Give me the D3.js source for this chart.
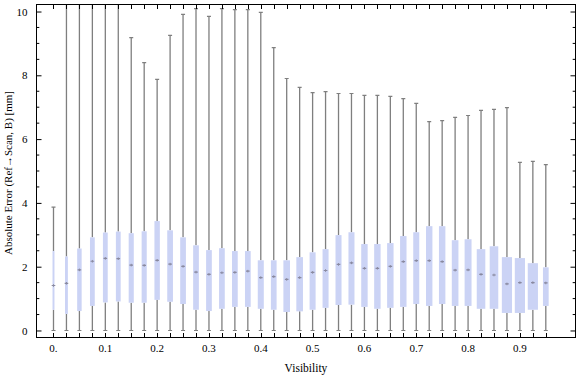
<!DOCTYPE html>
<html><head><meta charset="utf-8">
<script src="https://cdnjs.cloudflare.com/ajax/libs/d3/7.8.5/d3.min.js"></script>
<style>
html,body{margin:0;padding:0;background:#fff;}
svg{display:block;}
text{font-family:"Liberation Serif","Times New Roman",serif;fill:#000;}
</style></head>
<body>
<svg id="chart" width="576" height="377"></svg>
<script>
// Data
const visibility = d3.range(39).map(i => +(i * 0.025).toFixed(3));
const minVals = [0,0,0,0,0,0,0,0,0,0,0,0,0,0,0,0,0,0,0,0,0,0,0,0,0,0,0,0,0,0,0,0,0,0,0,0,0,0,0];
const q1Vals = [0.65,0.52,0.61,0.77,0.88,0.91,0.87,0.87,0.96,0.90,0.83,0.65,0.61,0.68,0.74,0.74,0.68,0.65,0.58,0.60,0.65,0.71,0.80,0.81,0.74,0.68,0.71,0.74,0.83,0.77,0.83,0.77,0.77,0.68,0.68,0.55,0.55,0.65,0.77];
const medianVals = [1.41,1.48,1.90,2.17,2.26,2.25,2.05,2.04,2.20,2.08,2.01,1.83,1.76,1.81,1.82,1.86,1.66,1.69,1.60,1.66,1.82,1.88,2.07,2.12,1.95,1.95,2.01,2.16,2.19,2.19,2.16,1.89,1.90,1.76,1.74,1.46,1.50,1.50,1.49];
const q3Vals = [2.49,2.32,2.57,2.92,3.07,3.10,3.05,3.11,3.43,3.14,2.92,2.67,2.52,2.58,2.49,2.49,2.20,2.20,2.20,2.30,2.45,2.55,2.99,3.08,2.71,2.71,2.74,2.96,3.08,3.27,3.27,2.83,2.86,2.55,2.64,2.30,2.27,2.11,1.98];
const maxVals = [3.87,12,12,12,12,12,9.18,8.40,7.87,9.25,9.91,10.09,9.85,10.09,10.06,10.06,9.97,8.87,7.90,7.62,7.46,7.49,7.43,7.43,7.37,7.37,7.34,7.27,7.12,6.55,6.58,6.68,6.74,6.90,6.93,6.99,5.27,5.30,5.20];
// relative box weight (box width is proportional to it)
const boxWeight = [0.19,0.28,0.44,0.47,0.47,0.47,0.50,0.50,0.53,0.56,0.56,0.56,0.56,0.56,0.56,0.56,0.59,0.56,0.65,0.65,0.59,0.59,0.59,0.59,0.63,0.63,0.63,0.63,0.59,0.63,0.63,0.65,0.68,0.84,0.84,1.0,1.0,1.0,0.56];
const xTickValues = [0,0.1,0.2,0.3,0.4,0.5,0.6,0.7,0.8,0.9];
const xTickLabels = ["0.","0.1","0.2","0.3","0.4","0.5","0.6","0.7","0.8","0.9"];
const yTickValues = [0,2,4,6,8,10];
const yMinorValues = d3.range(0, 10.01, 0.5);

const rows = visibility.map((v, i) => ({v, min: minVals[i], q1: q1Vals[i], med: medianVals[i], q3: q3Vals[i], max: maxVals[i], w: boxWeight[i]}));

const svg = d3.select("#chart");
const L = 36.5, R = 575.5, T = 4.5, B = 337.5;
const x = d3.scaleLinear().domain([-0.0328, 1.0073]).range([L, R]);
const y = d3.scaleLinear().domain([-0.22, 10.22]).range([B, T]);
const wScale = d3.scaleLinear().domain([0, 1]).range([0, 10.2]);

svg.append("defs").append("clipPath").attr("id","clip")
  .append("rect").attr("x", L).attr("y", T).attr("width", R - L).attr("height", B - T);

const plot = svg.append("g").attr("clip-path","url(#clip)");
const capW = 4;
const whiskerColor = "#7f7f7f";

const g = plot.selectAll("g.box").data(rows).join("g").attr("class","box");
// whiskers
g.append("line").attr("x1", d => x(d.v)).attr("x2", d => x(d.v))
  .attr("y1", d => y(d.min)).attr("y2", d => y(d.q1))
  .attr("stroke", whiskerColor).attr("stroke-width", 1.3);
g.append("line").attr("x1", d => x(d.v)).attr("x2", d => x(d.v))
  .attr("y1", d => y(d.q3)).attr("y2", d => y(d.max))
  .attr("stroke", whiskerColor).attr("stroke-width", 1.3);
// caps
g.append("line").attr("x1", d => x(d.v) - capW/2).attr("x2", d => x(d.v) + capW/2)
  .attr("y1", d => y(d.min)).attr("y2", d => y(d.min))
  .attr("stroke", whiskerColor).attr("stroke-width", 1.2);
g.append("line").attr("x1", d => x(d.v) - capW/2).attr("x2", d => x(d.v) + capW/2)
  .attr("y1", d => y(d.max)).attr("y2", d => y(d.max))
  .attr("stroke", whiskerColor).attr("stroke-width", 1.2);
// box
g.append("rect").attr("x", d => x(d.v) - wScale(d.w)/2).attr("width", d => wScale(d.w))
  .attr("y", d => y(d.q3)).attr("height", d => y(d.q1) - y(d.q3))
  .attr("fill", "#cbd3f5");
// median marker
g.append("line").attr("x1", d => x(d.v) - 1.8).attr("x2", d => x(d.v) + 1.8)
  .attr("y1", d => y(d.med)).attr("y2", d => y(d.med))
  .attr("stroke", "#8a8aa0").attr("stroke-width", 1.2);
g.append("line").attr("x1", d => x(d.v)).attr("x2", d => x(d.v))
  .attr("y1", d => y(d.med) - 1.3).attr("y2", d => y(d.med) + 1.3)
  .attr("stroke", "#8a8aa0").attr("stroke-width", 1);

// frame
svg.append("rect").attr("x", L).attr("y", T).attr("width", R - L).attr("height", B - T)
  .attr("fill","none").attr("stroke","#000").attr("stroke-width",1);

// x ticks (bottom and top) at each category
const ax = svg.append("g");
ax.selectAll("line.xb").data(visibility).join("line")
  .attr("x1", d => Math.round(x(d)) + 0.5).attr("x2", d => Math.round(x(d)) + 0.5)
  .attr("y1", B).attr("y2", B - 4.5).attr("stroke","#000");
ax.selectAll("line.xt").data(visibility).join("line")
  .attr("x1", d => Math.round(x(d)) + 0.5).attr("x2", d => Math.round(x(d)) + 0.5)
  .attr("y1", T).attr("y2", T + 4.5).attr("stroke","#000");
// y ticks
const yAxisL = d3.axisLeft(y).tickValues(yTickValues).tickSize(-5).tickPadding(9).tickFormat(d3.format("d"));
const gl = svg.append("g").attr("transform", `translate(${L},0)`).call(yAxisL);
gl.select(".domain").remove();
gl.selectAll("text").attr("font-size", 11).attr("font-family", '"Liberation Serif",serif');
const yAxisR = d3.axisRight(y).tickValues(yTickValues).tickSize(-5).tickFormat("");
const gr = svg.append("g").attr("transform", `translate(${R},0)`).call(yAxisR);
gr.select(".domain").remove();
// minor y ticks
svg.append("g").selectAll("line").data(yMinorValues.filter(v => v % 2 !== 0)).join("line")
  .attr("x1", L).attr("x2", L + 2.8).attr("y1", d => y(d)).attr("y2", d => y(d)).attr("stroke","#000");
svg.append("g").selectAll("line").data(yMinorValues.filter(v => v % 2 !== 0)).join("line")
  .attr("x1", R).attr("x2", R - 2.8).attr("y1", d => y(d)).attr("y2", d => y(d)).attr("stroke","#000");

// x tick labels
svg.append("g").selectAll("text").data(xTickValues).join("text")
  .attr("x", (d) => x(d)).attr("y", 352)
  .attr("text-anchor","middle").attr("font-size", 11)
  .text((d, i) => xTickLabels[i]);

// axis titles
svg.append("text").attr("x", (L + R) / 2).attr("y", 372).attr("text-anchor","middle")
  .attr("font-size", 11.5).text("Visibility");
svg.append("text").attr("transform", `translate(12,${(T + B) / 2 + 2}) rotate(-90)`)
  .attr("text-anchor","middle").attr("font-size", 11)
  .text("Absolute Error (Ref\u2192Scan, B) [mm]");
</script>
</body></html>
